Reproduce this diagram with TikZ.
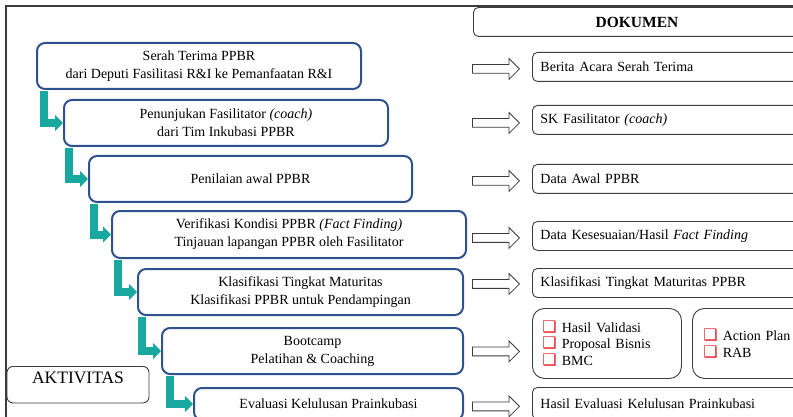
\documentclass[tikz,border=0pt]{standalone}
\usepackage{fontspec}
\setmainfont{Liberation Serif}
\newfontfamily\dejavu{DejaVu Sans}
\usepackage{tikz}
\usetikzlibrary{arrows.meta,shapes.arrows,positioning}
\definecolor{actblue}{RGB}{47,82,143}
\definecolor{flowteal}{RGB}{24,168,160}
\definecolor{docgray}{RGB}{60,60,60}
\definecolor{chkred}{RGB}{232,28,36}
\newcommand{\chk}{\textcolor{chkred}{\dejavu\fontsize{16}{16}\selectfont ❑}\hspace{5pt}}

\begin{document}
\begin{tikzpicture}[x=1pt,y=-1pt,
 activity/.style={draw=actblue,line width=2pt,rounded corners=8pt,anchor=north west,minimum height=46pt,align=center,inner sep=0pt,font=\fontsize{14}{18}\selectfont},
 document/.style={draw=docgray,line width=0.9pt,rounded corners=5pt,anchor=north west,minimum height=29pt,text width=250pt,inner xsep=8pt,inner ysep=0pt,align=left,font=\fontsize{14}{17}\selectfont},
 checklist/.style={document,rounded corners=12pt,minimum height=70pt,font=\fontsize{14}{16.5}\selectfont},
 hollow/.style={single arrow,draw=docgray,fill=white,line width=0.8pt,minimum height=47pt,inner xsep=0pt,inner ysep=4pt,single arrow head extend=6pt,anchor=tip},
 flow/.style={draw=flowteal,line width=8pt,line join=miter,-{Triangle[length=8pt,width=16pt]}}]
\clip (0,0) rectangle (793,417);
\draw[docgray,line width=1.2pt] (6,6) rectangle (820,440);

% aktivitas
\node (a1)[activity,minimum width=324pt] at (36,42) {Serah Terima PPBR\\dari Deputi Fasilitasi R\&I ke Pemanfaatan R\&I};
\node (a2)[activity,minimum width=324pt] at (63,99) {Penunjukan Fasilitator \textit{(coach)}\\dari Tim Inkubasi PPBR};
\node (a3)[activity,minimum width=323pt] at (88,155) {Penilaian awal PPBR};
\node (a4)[activity,minimum width=354pt,minimum height=47pt] at (111,210) {Verifikasi Kondisi PPBR \textit{(Fact Finding)}\\Tinjauan lapangan PPBR oleh Fasilitator};
\node (a5)[activity,minimum width=325pt] at (137,268) {Klasifikasi Tingkat Maturitas\\Klasifikasi PPBR untuk Pendampingan};
\node (a6)[activity,minimum width=301pt] at (161,327) {Bootcamp\\Pelatihan \& Coaching};
\node (a7)[activity,minimum width=269pt,minimum height=32pt] at (193,387) {Evaluasi Kelulusan Prainkubasi};
\node (akt)[draw=docgray,line width=0.9pt,rounded corners=6pt,anchor=north,minimum width=142pt,inner ysep=6pt,text height=11.5pt,text depth=13pt,font=\fontsize{17.5}{20}\selectfont] at (78,366) {AKTIVITAS};

\draw [flow] ([xshift=8pt,yshift=-1pt]a1.south west) |- (a2.west);
\draw [flow] ([xshift=6pt,yshift=-1pt]a2.south west) |- (a3.west);
\draw [flow] ([xshift=6pt,yshift=-1pt]a3.south west) |- (a4.west);
\draw [flow] ([xshift=7pt,yshift=-1pt]a4.south west) |- (a5.west);
\draw [flow] ([xshift=5pt,yshift=-1pt]a5.south west) |- (a6.west);
\draw [flow] ([xshift=9pt,yshift=-1pt]a6.south west) |- (a7.west);

% dokumen
\node (dok)[draw=docgray,line width=0.9pt,rounded corners=5pt,anchor=north west,minimum width=327pt,minimum height=29pt,font=\bfseries\fontsize{15.5}{18}\selectfont] at (473,7) {DOKUMEN};
\node (d1)[document] at (532,52) {Berita Acara Serah Terima};
\node (d2)[document] at (532,105) {SK Fasilitator \textit{(coach)}};
\node (d3)[document] at (532,164) {Data Awal PPBR};
\node (d4)[document] at (532,221) {Data Kesesuaian/Hasil \textit{Fact Finding}};
\node (d5)[document] at (532,268) {Klasifikasi Tingkat Maturitas PPBR};
\node (d6)[checklist,text width=129pt,inner xsep=10pt] at (532,308) {\chk Hasil Validasi\\\chk Proposal Bisnis\\\chk BMC};
\node (d6b)[checklist,text width=96pt,inner xsep=11pt] at (692,308) {\chk Action Plan\\\chk RAB};
\node (d7)[document,minimum height=32pt] at (532,387) {Hasil Evaluasi Kelulusan Prainkubasi};

\node (h1)[hollow] at ([xshift=-12pt,yshift=-2pt]d1.west) {};
\node (h2)[hollow] at ([xshift=-12pt,yshift=-3pt]d2.west) {};
\node (h3)[hollow] at ([xshift=-12pt,yshift=-2pt]d3.west) {};
\node (h4)[hollow] at ([xshift=-12pt,yshift=-2pt]d4.west) {};
\node (h5)[hollow] at ([xshift=-12pt,yshift=-1pt]d5.west) {};
\node (h6)[hollow] at ([xshift=-12pt,yshift=-8pt]d6.west) {};
\node (h7)[hollow] at ([xshift=-12pt,yshift=-3pt]d7.west) {};
\end{tikzpicture}
\end{document}
